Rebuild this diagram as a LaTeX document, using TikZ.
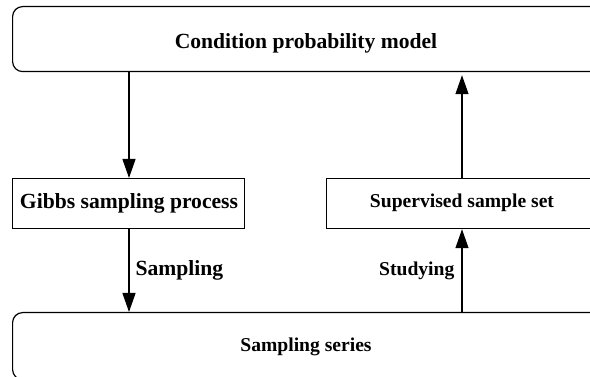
\documentclass[tikz,border=0pt]{standalone}
\usepackage{fontspec}
\setmainfont{Liberation Serif}
\usetikzlibrary{arrows.meta}
\begin{document}
\begin{tikzpicture}[x=1pt,y=-1pt,
  box/.style={draw,line width=1.2pt,inner sep=0pt,anchor=north west},
  lbl/.style={font=\bfseries\fontsize{19.6}{21}\selectfont,inner sep=0pt},
  biglbl/.style={lbl,font=\bfseries\fontsize{21.6}{23}\selectfont},
  arr/.style={-{Triangle[length=19pt,width=13pt]},line width=1.2pt}]
  \useasboundingbox (0,0) rectangle (590,377);
  \clip (0,0) rectangle (590,377);
  \node[box,rounded corners=10pt,minimum width=588pt,minimum height=65pt] (modelbox) at (12,6) {};
  \node[biglbl] (model) at (306,43) {Condition probability model};
  \node[box,minimum width=232pt,minimum height=50pt] (gibbs) at (12,178) {};
  \node[biglbl] (gibbstext) at (129,203) {Gibbs sampling process};
  \node[box,minimum width=272pt,minimum height=50pt] (supervised) at (326,178) {};
  \node[lbl] (supervisedtext) at (462,203) {Supervised sample set};
  \node[box,rounded corners=10pt,minimum width=588pt,minimum height=67pt] (seriesbox) at (12,312) {};
  \node[lbl] (series) at (306,347) {Sampling series};
  \draw[arr] (modelbox.south west -| gibbstext) -- (gibbs.north -| gibbstext);
  \draw[arr] (gibbs.south -| gibbstext) -- node[biglbl,right=6pt] {Sampling} (seriesbox.north west -| gibbstext);
  \draw[arr] (seriesbox.north west -| supervisedtext) -- node[lbl,left=7pt] {Studying} (supervised.south -| supervisedtext);
  \draw[arr,shorten >=3pt] (supervised.north -| supervisedtext) -- (modelbox.south west -| supervisedtext);
\end{tikzpicture}
\end{document}
